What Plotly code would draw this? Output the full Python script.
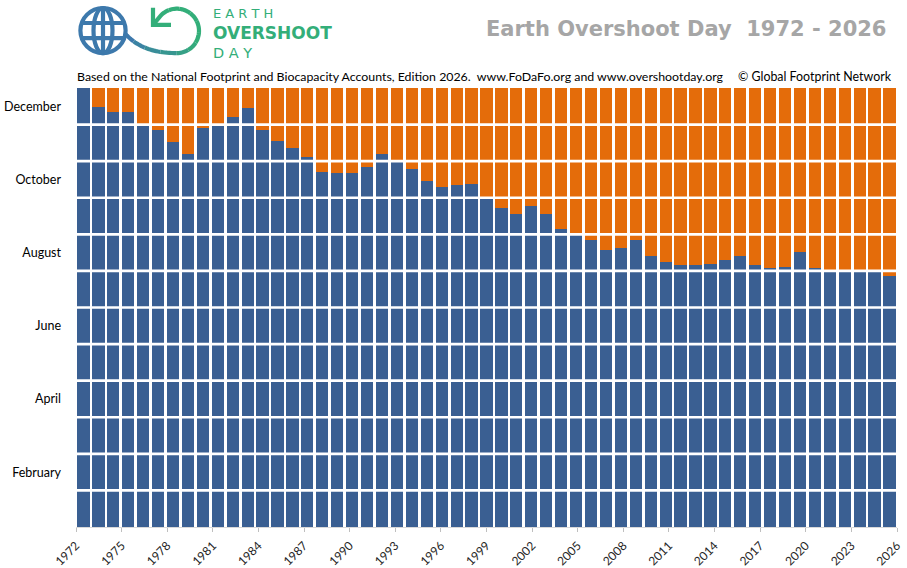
import numpy as np
import plotly.graph_objects as go

# ---------------- data ----------------
YEARS = list(range(1972, 2027))
OVERSHOOT_DAY = [365, 349, 345, 345, 333, 330, 320, 310, 332, 334,
                 341, 348, 330, 321, 315, 308, 295, 294, 294, 299,
                 310, 304, 298, 288, 283, 284, 285, 273, 265, 260,
                 267, 260, 248, 243, 239, 230, 232, 239, 225, 220,
                 218, 218, 219, 222, 225, 218, 215, 216, 229, 215,
                 213, 213, 213, 213, 209]
YEAR_LENGTH = 365
MONTHS = ["January", "February", "March", "April", "May", "June", "July",
          "August", "September", "October", "November", "December"]
LABELLED_MONTHS = ["February", "April", "June", "August", "October", "December"]
TICK_YEARS = [1972, 1975, 1978, 1981, 1984, 1987, 1990, 1993, 1996, 1999,
              2002, 2005, 2008, 2011, 2014, 2017, 2020, 2023, 2026]

TITLE = "Earth Overshoot Day  1972 - 2026"
SUBTITLE = ("Based on the National Footprint and Biocapacity Accounts, Edition 2026.  "
            "www.FoDaFo.org and www.overshootday.org")
CREDIT = "© Global Footprint Network"

BLUE = "#3A5F92"
ORANGE = "#E46C0A"
GREEN = "#33AE79"
GLOBE = "#3D79AC"

remaining = [YEAR_LENGTH - d for d in OVERSHOOT_DAY]

W, H = 907, 568
L_, R_, T_, B_ = 76, 897, 88, 527


def P(px, py):
    return ((px - L_) / (R_ - L_), (B_ - py) / (B_ - T_))


fig = go.Figure()
fig.add_trace(go.Bar(x=YEARS, y=OVERSHOOT_DAY, marker=dict(color=BLUE, line=dict(width=0)),
                     hoverinfo="x+y", name="Overshoot day"))
fig.add_trace(go.Bar(x=YEARS, y=remaining, marker=dict(color=ORANGE, line=dict(width=0)),
                     hoverinfo="skip", name="Remaining"))

n = len(YEARS)
x_lo, x_hi = YEARS[0] - 0.5, YEARS[-1] + 0.5
tickvals = [x_lo + (y - YEARS[0]) * n / (YEARS[-1] - YEARS[0]) for y in TICK_YEARS]

month_len = YEAR_LENGTH / len(MONTHS)
ytickvals = [(MONTHS.index(m) + 0.5) * month_len for m in LABELLED_MONTHS]

shapes = []
# month separators drawn over the bars
for k in range(1, len(MONTHS)):
    shapes.append(dict(type="line", xref="paper", yref="y", x0=0, x1=1,
                       y0=k * month_len, y1=k * month_len,
                       line=dict(color="white", width=2.6), layer="above"))

# ---------------- logo ----------------
gc = (103, 30.6)
gr = 22.6
lw = 4.2
x0, y0 = P(gc[0] - gr, gc[1] - gr)
x1, y1 = P(gc[0] + gr, gc[1] + gr)
shapes.append(dict(type="circle", xref="paper", yref="paper", x0=x0, y0=y0, x1=x1, y1=y1,
                   line=dict(color=GLOBE, width=lw)))
ex0, ey0 = P(gc[0] - 9.5, gc[1] - gr)
ex1, ey1 = P(gc[0] + 9.5, gc[1] + gr)
shapes.append(dict(type="circle", xref="paper", yref="paper", x0=ex0, y0=ey0, x1=ex1, y1=ey1,
                   line=dict(color=GLOBE, width=lw)))
vx0, vy0 = P(gc[0], gc[1] - gr)
vx1, vy1 = P(gc[0], gc[1] + gr)
shapes.append(dict(type="line", xref="paper", yref="paper", x0=vx0, y0=vy0, x1=vx1, y1=vy1,
                   line=dict(color=GLOBE, width=lw)))
for dy in (-7.6, 7.6):
    half = np.sqrt(gr ** 2 - dy ** 2)
    hx0, hy0 = P(gc[0] - half, gc[1] + dy)
    hx1, hy1 = P(gc[0] + half, gc[1] + dy)
    shapes.append(dict(type="line", xref="paper", yref="paper", x0=hx0, y0=hy0, x1=hx1, y1=hy1,
                       line=dict(color=GLOBE, width=lw)))

# S-curve + loop as polyline with colour gradient
lc = (176.8, 30.9)
lr = 22.2
t = np.linspace(0, 1, 30)
p0, p1, p2, p3 = np.array([124.5, 33.0]), np.array([136, 46]), np.array([152, 53.1]), np.array([176.8, 53.1])
bez = ((1 - t) ** 3)[:, None] * p0 + (3 * (1 - t) ** 2 * t)[:, None] * p1 + \
      (3 * (1 - t) * t ** 2)[:, None] * p2 + (t ** 3)[:, None] * p3
th = np.radians(np.linspace(90, -138, 60))
arc = np.column_stack([lc[0] + lr * np.cos(th), lc[1] + lr * np.sin(th)])
tip = np.array([[153.0, 24.8]])
pts = np.vstack([bez, arc[1:], tip])


def mix(c1, c2, f):
    a = [int(c1[i:i + 2], 16) for i in (1, 3, 5)]
    b = [int(c2[i:i + 2], 16) for i in (1, 3, 5)]
    return "rgb(%d,%d,%d)" % tuple(round(a[i] + (b[i] - a[i]) * f) for i in range(3))


nseg = 12
idx = np.linspace(0, len(pts) - 1, nseg + 1).astype(int)
for s in range(nseg):
    seg = pts[idx[s]:idx[s + 1] + 1]
    path = "M " + " L ".join("%.5f,%.5f" % P(px, py) for px, py in seg)
    f = min(1.0, s / (nseg * 0.45))
    shapes.append(dict(type="path", xref="paper", yref="paper", path=path,
                       line=dict(color=mix(GLOBE, GREEN, f), width=lw)))
arrow = [(153.0, 7.8), (153.0, 24.8), (171.0, 24.8)]
shapes.append(dict(type="path", xref="paper", yref="paper",
                   path="M " + " L ".join("%.5f,%.5f" % P(px, py) for px, py in arrow),
                   line=dict(color=GREEN, width=lw)))

annotations = []


def ann(text, px, py, size, color, family, xanchor="left", bold=False):
    x, y = P(px, py)
    annotations.append(dict(text=("<b>%s</b>" % text) if bold else text, x=x, y=y,
                            xref="paper", yref="paper", xanchor=xanchor, yanchor="middle",
                            showarrow=False, font=dict(size=size, color=color, family=family)))


ann("E A R T H", 211, 13, 13, GREEN, "DejaVu Sans")
ann("OVERSHOOT", 211, 33, 17, GREEN, "DejaVu Sans", bold=True)
ann("D A Y", 211, 53, 14.5, GREEN, "DejaVu Sans")
ann(TITLE, 888, 29, 21, "#A6A6A6", "DejaVu Sans", xanchor="right", bold=True)
ann(SUBTITLE, 75, 76, 12.35, "#000000", "Lato")
ann(CREDIT, 894, 76, 12.4, "#000000", "Lato", xanchor="right")

fig.update_layout(
    width=W, height=H,
    margin=dict(l=L_, r=W - R_, t=T_, b=H - B_, autoexpand=False),
    paper_bgcolor="white", plot_bgcolor="white",
    barmode="stack", bargap=0.18,
    showlegend=False,
    shapes=shapes,
    annotations=annotations,
    xaxis=dict(range=[x_lo, x_hi], tickmode="array", tickvals=tickvals,
               ticktext=[str(y) for y in TICK_YEARS], tickangle=-45,
               ticks="outside", ticklen=4, tickcolor="#BFBFBF", tickwidth=1,
               showline=True, linecolor="#D9D9D9", linewidth=1,
               showgrid=False, zeroline=False, automargin=False, ticklabelstandoff=2,
               tickfont=dict(family="Lato", size=12, color="#262626")),
    yaxis=dict(range=[0, YEAR_LENGTH], tickmode="array", tickvals=ytickvals,
               ticktext=LABELLED_MONTHS, ticks="", showgrid=False, zeroline=False,
               showline=False, automargin=False, ticklabelstandoff=14,
               tickfont=dict(family="Lato", size=12.5, color="#000000")),
)

fig.write_html("out.html", config={"displayModeBar": False},
               post_script="document.body.style.margin='0';document.body.style.overflow='hidden';")
